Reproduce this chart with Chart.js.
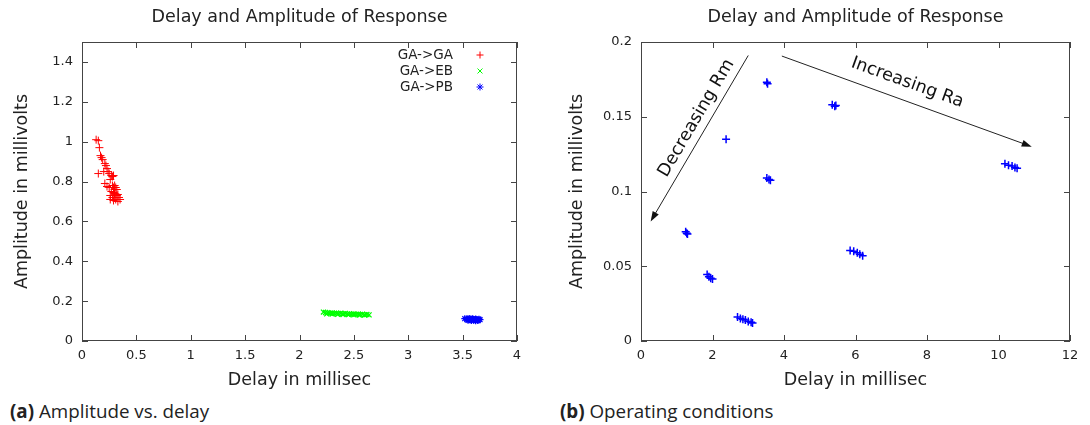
<!DOCTYPE html>
<html>
<head>
<meta charset="utf-8">
<script src="https://cdn.jsdelivr.net/npm/chart.js@4/dist/chart.umd.min.js"></script>
<style>
  body { margin: 0; background: #fff; width: 1090px; height: 425px; position: relative; overflow: hidden; }
  canvas { position: absolute; top: 0; }
  #chartA { left: 0; }
  #chartB { left: 545px; }
  .caption { position: absolute; top: 398px; font-family: 'Open Sans', sans-serif; font-size: 18.8px; color: #222; white-space: nowrap; }
  .caption b { font-weight: 700; }
</style>
</head>
<body>
<canvas id="chartA" width="545" height="395"></canvas>
<canvas id="chartB" width="545" height="395"></canvas>
<div class="caption" style="left:10px"><b>(a)</b> Amplitude vs. delay</div>
<div class="caption" style="left:560px"><b>(b)</b> Operating conditions</div>
<script>
// ---- (a) amplitude vs delay ----
const gaDelay = [0.13, 0.15, 0.16, 0.17, 0.18, 0.19, 0.21, 0.22, 0.23, 0.15, 0.20, 0.24, 0.25, 0.27, 0.28, 0.29, 0.26, 0.21, 0.23, 0.25,
                 0.28, 0.29, 0.30, 0.31, 0.32, 0.27, 0.29, 0.30, 0.32, 0.33, 0.26, 0.28, 0.30, 0.34, 0.26, 0.29, 0.31, 0.35, 0.33, 0.30];
const gaAmp   = [1.01, 1.005, 0.97, 0.93, 0.92, 0.91, 0.89, 0.88, 0.865, 0.84, 0.85, 0.85, 0.84, 0.83, 0.825, 0.83, 0.81, 0.79, 0.775, 0.77,
                 0.78, 0.77, 0.76, 0.77, 0.76, 0.75, 0.745, 0.74, 0.73, 0.735, 0.73, 0.72, 0.72, 0.72, 0.71, 0.705, 0.71, 0.71, 0.70, 0.78];

const ebDelay = [2.22, 2.24, 2.26, 2.28, 2.30, 2.32, 2.34, 2.36, 2.38, 2.40, 2.42, 2.44, 2.46, 2.48, 2.50, 2.52, 2.54, 2.56, 2.58, 2.60,
                 2.62, 2.64, 2.25, 2.30, 2.35, 2.40, 2.45, 2.50, 2.55, 2.60];
const ebAmp   = [0.145, 0.143, 0.142, 0.140, 0.141, 0.139, 0.140, 0.138, 0.139, 0.137, 0.138, 0.136, 0.137, 0.135, 0.136, 0.134, 0.135, 0.133, 0.134, 0.132,
                 0.133, 0.131, 0.136, 0.135, 0.134, 0.133, 0.132, 0.131, 0.130, 0.130];

const pbDelay = [3.52, 3.54, 3.55, 3.56, 3.57, 3.58, 3.59, 3.60, 3.61, 3.62, 3.63, 3.64, 3.65, 3.66, 3.55, 3.58, 3.60, 3.62, 3.64];
const pbAmp   = [0.112, 0.111, 0.108, 0.113, 0.110, 0.107, 0.111, 0.109, 0.106, 0.110, 0.108, 0.105, 0.109, 0.107, 0.104, 0.103, 0.104, 0.102, 0.103];

const xTicksA = [0, 0.5, 1, 1.5, 2, 2.5, 3, 3.5, 4];
const yTicksA = [0, 0.2, 0.4, 0.6, 0.8, 1, 1.2, 1.4];

// ---- (b) operating conditions ----
const opDelay = [1.25, 1.28, 1.30, 1.85, 1.90, 1.95, 2.00, 2.70, 2.78, 2.85, 2.92, 3.00, 3.08, 3.12, 2.38, 3.52, 3.54,
                 3.52, 3.58, 3.62, 5.35, 5.42, 5.45, 5.85, 5.95, 6.05, 6.12, 6.20, 10.18, 10.28, 10.38, 10.46, 10.52];
const opAmp   = [0.073, 0.072, 0.0715, 0.0445, 0.043, 0.042, 0.0415, 0.016, 0.015, 0.0145, 0.014, 0.013, 0.0125, 0.012, 0.135, 0.173, 0.172,
                 0.109, 0.108, 0.1075, 0.158, 0.157, 0.1575, 0.0605, 0.060, 0.059, 0.058, 0.057, 0.1185, 0.1175, 0.117, 0.116, 0.1155];

const xTicksB = [0, 2, 4, 6, 8, 10, 12];
const yTicksB = [0, 0.05, 0.1, 0.15, 0.2];

const arrowsB = [
    { from: [3.0, 0.191], to: [0.27, 0.080], text: 'Decreasing Rm', at: [1.55, 0.149] },
    { from: [3.94, 0.1906], to: [10.93, 0.130], text: 'Increasing Ra', at: [7.45, 0.1728] }
];

const FONT = 'DejaVu Sans';
const BIG = 17.5;
Chart.defaults.font.family = FONT;
Chart.defaults.color = '#222';

const pts = (xs, ys) => xs.map((x, i) => ({ x: x, y: ys[i] }));

// box with inward ticks on all four sides, gnuplot style
const framePlugin = {
    id: 'frame',
    beforeDatasetsDraw(chart) {
        const { ctx, chartArea: a, scales: { x, y } } = chart;
        const L = 6;
        ctx.save();
        ctx.strokeStyle = '#444';
        ctx.lineWidth = 1;
        ctx.beginPath();
        x.ticks.forEach(t => {
            const px = Math.round(x.getPixelForValue(t.value)) + 0.5;
            ctx.moveTo(px, a.bottom); ctx.lineTo(px, a.bottom - L);
            ctx.moveTo(px, a.top); ctx.lineTo(px, a.top + L);
        });
        y.ticks.forEach(t => {
            const py = Math.round(y.getPixelForValue(t.value)) + 0.5;
            ctx.moveTo(a.left, py); ctx.lineTo(a.left + L, py);
            ctx.moveTo(a.right, py); ctx.lineTo(a.right - L, py);
        });
        ctx.stroke();
        ctx.strokeRect(Math.round(a.left) + 0.5, Math.round(a.top) + 0.5,
                       Math.round(a.right - a.left) - 1, Math.round(a.bottom - a.top) - 1);
        ctx.restore();
    }
};

// legend with text on the left and symbol on the right
const keyPlugin = {
    id: 'key',
    afterDatasetsDraw(chart) {
        const { ctx, chartArea: a } = chart;
        ctx.save();
        ctx.font = '13.5px ' + FONT;
        ctx.textAlign = 'right';
        ctx.textBaseline = 'middle';
        chart.data.datasets.forEach((ds, i) => {
            const yy = a.top + 13 + i * 16;
            ctx.fillStyle = '#222';
            ctx.fillText(ds.label, a.right - 64, yy);
            ctx.strokeStyle = ds.borderColor;
            ctx.fillStyle = ds.borderColor;
            ctx.lineWidth = 1;
            Chart.helpers.drawPoint(ctx, { pointStyle: ds.pointStyle, radius: 3.5, rotation: 0, borderWidth: 1 },
                                    a.right - 37, yy);
        });
        ctx.restore();
    }
};

const arrowPlugin = {
    id: 'arrows',
    afterDatasetsDraw(chart) {
        const { ctx, scales: { x, y } } = chart;
        ctx.save();
        arrowsB.forEach(ar => {
            const x0 = x.getPixelForValue(ar.from[0]), y0 = y.getPixelForValue(ar.from[1]);
            const x1 = x.getPixelForValue(ar.to[0]), y1 = y.getPixelForValue(ar.to[1]);
            const ang = Math.atan2(y1 - y0, x1 - x0);
            ctx.strokeStyle = '#222';
            ctx.fillStyle = '#111';
            ctx.lineWidth = 1;
            ctx.beginPath();
            ctx.moveTo(x0, y0);
            ctx.lineTo(x1 - 8 * Math.cos(ang), y1 - 8 * Math.sin(ang));
            ctx.stroke();
            ctx.beginPath();
            ctx.moveTo(x1, y1);
            ctx.lineTo(x1 - 10 * Math.cos(ang) + 3.5 * Math.sin(ang), y1 - 10 * Math.sin(ang) - 3.5 * Math.cos(ang));
            ctx.lineTo(x1 - 10 * Math.cos(ang) - 3.5 * Math.sin(ang), y1 - 10 * Math.sin(ang) + 3.5 * Math.cos(ang));
            ctx.closePath();
            ctx.fill();
            // label runs along the arrow, read left to right
            let tAng = ang;
            if (Math.cos(tAng) < 0) tAng += Math.PI;
            ctx.save();
            ctx.translate(x.getPixelForValue(ar.at[0]), y.getPixelForValue(ar.at[1]));
            ctx.rotate(tAng);
            ctx.font = BIG + 'px ' + FONT;
            ctx.fillStyle = '#111';
            ctx.textAlign = 'center';
            ctx.textBaseline = 'middle';
            ctx.fillText(ar.text, 0, 0);
            ctx.restore();
        });
        ctx.restore();
    }
};

function makeOptions(cfg) {
    return {
        responsive: false,
        animation: false,
        layout: { padding: { left: 0, right: cfg.padRight, top: 0, bottom: 0 } },
        plugins: {
            legend: { display: false },
            tooltip: { enabled: false },
            title: {
                display: true,
                fullSize: false,
                text: 'Delay and Amplitude of Response',
                font: { family: FONT, size: BIG, weight: 'normal', lineHeight: 1.2 },
                color: '#222',
                padding: { top: 7, bottom: 14 }
            }
        },
        scales: {
            x: {
                type: 'linear', min: cfg.xMin, max: cfg.xMax,
                grid: { display: false, drawTicks: false, tickLength: 0 }, border: { display: false },
                afterBuildTicks: s => { s.ticks = cfg.xTicks.map(v => ({ value: v })); },
                afterFit: s => { s.height = 54; },
                ticks: { font: { size: 13 }, color: '#222', padding: 7, maxRotation: 0, autoSkip: false, callback: v => String(v) },
                title: { display: true, text: 'Delay in millisec', font: { size: BIG, lineHeight: 1.2 }, color: '#222', padding: { top: 4, bottom: 4 } }
            },
            y: {
                type: 'linear', min: cfg.yMin, max: cfg.yMax,
                grid: { display: false, drawTicks: false, tickLength: 0 }, border: { display: false },
                afterBuildTicks: s => { s.ticks = cfg.yTicks.map(v => ({ value: v })); },
                afterFit: s => { s.width = cfg.yWidth; },
                ticks: { font: { size: 13 }, color: '#222', padding: 9, autoSkip: false, callback: v => String(v) },
                title: { display: true, text: 'Amplitude in millivolts', font: { size: BIG, lineHeight: 1.2 }, color: '#222', padding: { top: cfg.yTitlePad, bottom: 0 } }
            }
        }
    };
}

new Chart(document.getElementById('chartA'), {
    type: 'scatter',
    data: {
        datasets: [
            { label: 'GA->GA', data: pts(gaDelay, gaAmp), pointStyle: 'cross', pointRadius: 4, borderColor: '#ff0000', backgroundColor: '#ff0000', borderWidth: 1 },
            { label: 'GA->EB', data: pts(ebDelay, ebAmp), pointStyle: 'crossRot', pointRadius: 3.5, borderColor: '#00ff00', backgroundColor: '#00ff00', borderWidth: 1.3 },
            { label: 'GA->PB', data: pts(pbDelay, pbAmp), pointStyle: 'star', pointRadius: 3.5, borderColor: '#0000ff', backgroundColor: '#0000ff', borderWidth: 1.3 }
        ]
    },
    options: makeOptions({ padRight: 28, xMin: 0, xMax: 4, yMin: 0, yMax: 1.5, xTicks: xTicksA, yTicks: yTicksA, yWidth: 82, yTitlePad: 11.5 }),
    plugins: [framePlugin, keyPlugin]
});

new Chart(document.getElementById('chartB'), {
    type: 'scatter',
    data: {
        datasets: [
            { label: 'operating points', data: pts(opDelay, opAmp), pointStyle: 'cross', pointRadius: 4, borderColor: '#0000ff', backgroundColor: '#0000ff', borderWidth: 1.5 }
        ]
    },
    options: makeOptions({ padRight: 20, xMin: 0, xMax: 12, yMin: 0, yMax: 0.2, xTicks: xTicksB, yTicks: yTicksB, yWidth: 96, yTitlePad: 21.5 }),
    plugins: [framePlugin, arrowPlugin]
});
</script>
</body>
</html>
